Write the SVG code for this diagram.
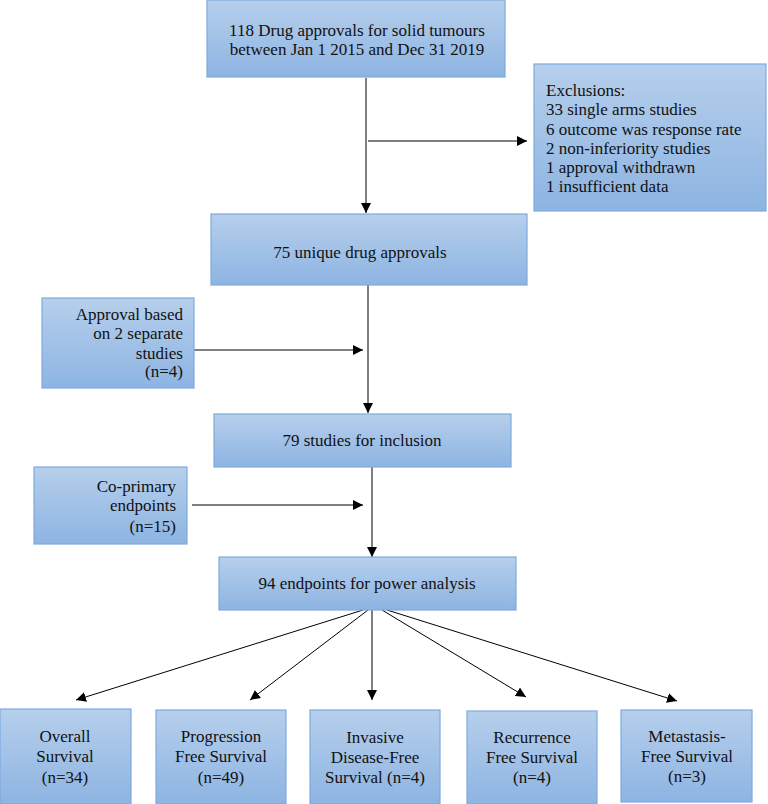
<svg xmlns="http://www.w3.org/2000/svg" width="768" height="804" viewBox="0 0 768 804">
<defs>
<linearGradient id="g" x1="0" y1="0" x2="0" y2="1">
<stop offset="0" stop-color="#b6cfec"/>
<stop offset="1" stop-color="#8db4e2"/>
</linearGradient>
<marker id="ah" viewBox="0 0 10 10" refX="10" refY="5" markerWidth="10" markerHeight="10" markerUnits="userSpaceOnUse" orient="auto">
<path d="M0,0 L10,5 L0,10 z" fill="#000"/>
</marker>
<style>
.box{fill:url(#g);stroke:#7eaade;stroke-width:1.2}
text{font-family:'Liberation Serif','Times New Roman',serif;font-size:17px;fill:#111}
.c{text-anchor:middle}
.r{text-anchor:end}
.ln{stroke:#000;stroke-width:1;fill:none;marker-end:url(#ah)}
</style>
</defs>
<rect width="768" height="804" fill="#fff"/>
<g id="connectors">
<line class="ln" x1="366" y1="78" x2="366" y2="213"/>
<line class="ln" x1="368" y1="141" x2="527" y2="141"/>
<line class="ln" x1="368" y1="285" x2="368" y2="413"/>
<line class="ln" x1="192" y1="350" x2="363" y2="350"/>
<line class="ln" x1="372" y1="467" x2="372" y2="557"/>
<line class="ln" x1="192" y1="505" x2="363" y2="505"/>
<line class="ln" x1="363" y1="610" x2="76" y2="700"/>
<line class="ln" x1="368" y1="610" x2="250" y2="700"/>
<line class="ln" x1="372" y1="610" x2="372" y2="700"/>
<line class="ln" x1="382" y1="610" x2="526" y2="697"/>
<line class="ln" x1="387" y1="610" x2="677" y2="701"/>
</g>
<g id="n-approvals">
<rect class="box" x="207" y="0" width="298" height="77"/>
<text class="c" x="357" y="36">118 Drug approvals for solid tumours</text>
<text class="c" x="357" y="55">between Jan 1 2015 and Dec 31 2019</text>
</g>
<g id="n-exclusions">
<rect class="box" x="534" y="64" width="232" height="147"/>
<text x="546" y="96">Exclusions:</text>
<text x="546" y="115">33 single arms studies</text>
<text x="546" y="135">6 outcome was response rate</text>
<text x="546" y="154">2 non-inferiority studies</text>
<text x="546" y="173">1 approval withdrawn</text>
<text x="546" y="192">1 insufficient data</text>
</g>
<g id="n-unique">
<rect class="box" x="211" y="214" width="316" height="71"/>
<text class="c" x="360" y="258">75 unique drug approvals</text>
</g>
<g id="n-separate">
<rect class="box" x="42" y="298" width="152" height="90"/>
<text class="r" x="183" y="320">Approval based</text>
<text class="r" x="183" y="339">on 2 separate</text>
<text class="r" x="183" y="359">studies</text>
<text class="r" x="183" y="377">(n=4)</text>
</g>
<g id="n-studies">
<rect class="box" x="214" y="414" width="297" height="53"/>
<text class="c" x="362" y="446">79 studies for inclusion</text>
</g>
<g id="n-coprimary">
<rect class="box" x="34" y="467" width="153" height="77"/>
<text class="r" x="176" y="492">Co-primary</text>
<text class="r" x="176" y="511">endpoints</text>
<text class="r" x="176" y="532">(n=15)</text>
</g>
<g id="n-endpoints">
<rect class="box" x="219" y="557" width="297" height="53"/>
<text class="c" x="367" y="589">94 endpoints for power analysis</text>
</g>
<g id="n-os">
<rect class="box" x="0" y="709" width="131" height="95"/>
<text class="c" x="65" y="742">Overall</text>
<text class="c" x="65" y="762">Survival</text>
<text class="c" x="65" y="783">(n=34)</text>
</g>
<g id="n-pfs">
<rect class="box" x="156" y="710" width="130" height="94"/>
<text class="c" x="221" y="742">Progression</text>
<text class="c" x="221" y="762">Free Survival</text>
<text class="c" x="221" y="783">(n=49)</text>
</g>
<g id="n-idfs">
<rect class="box" x="310" y="710" width="130" height="94"/>
<text class="c" x="375" y="743">Invasive</text>
<text class="c" x="375" y="763">Disease-Free</text>
<text class="c" x="375" y="783">Survival (n=4)</text>
</g>
<g id="n-rfs">
<rect class="box" x="467" y="711" width="130" height="93"/>
<text class="c" x="532" y="743">Recurrence</text>
<text class="c" x="532" y="763">Free Survival</text>
<text class="c" x="532" y="783">(n=4)</text>
</g>
<g id="n-mfs">
<rect class="box" x="621" y="710" width="131" height="92"/>
<text class="c" x="687" y="742">Metastasis-</text>
<text class="c" x="687" y="762">Free Survival</text>
<text class="c" x="687" y="782">(n=3)</text>
</g>
</svg>
